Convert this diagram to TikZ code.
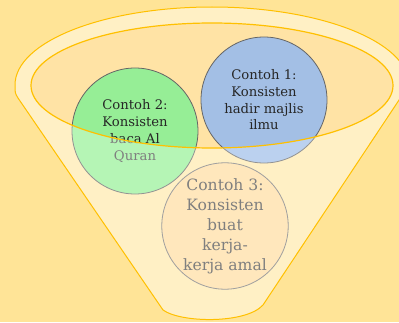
\documentclass[tikz,border=0pt]{standalone}
\usepackage{fontspec}
\setmainfont{DejaVu Serif}
\definecolor{bgc}{HTML}{FFE497}
\definecolor{bodyc}{HTML}{FFF0C5}
\definecolor{rimc}{HTML}{FFE3A5}
\definecolor{linec}{HTML}{FFC000}
\definecolor{greenout}{HTML}{B5F5B5}
\definecolor{greenin}{HTML}{96EE96}
\definecolor{blueout}{HTML}{BBD1EF}
\definecolor{bluein}{HTML}{A3BFE5}
\definecolor{beige}{HTML}{FFE7BC}
\definecolor{txtout}{HTML}{7F7F7F}
\definecolor{txtin}{HTML}{262626}
\tikzset{
  bubble/.style={circle, minimum size=126pt, inner sep=0pt, align=center,
    font=\fontsize{13.2}{16.7}\selectfont, line width=0.8pt},
  outer/.style={bubble, draw=gray!85, text=txtout},
  inner/.style={bubble, draw=black!60, text=txtin},
}
\begin{document}
\begin{tikzpicture}[x=1pt,y=1pt]
\useasboundingbox (0,0) rectangle (399,322);
\fill[bgc] (0,0) rectangle (399,322);
% funnel body
\draw[fill=bodyc, draw=linec, line width=1pt]
  (15,237) arc[start angle=180, end angle=0, x radius=197, y radius=78]
  -- (263,17) .. controls (246,-2) and (181,-1) .. (163,12)
  -- (18,224) .. controls (15,229) .. cycle;
% circles, outside the rim
\node[outer, fill=greenout] (c2o) at (135,191) {Contoh 2:\\Konsisten\\baca Al\\Quran};
\node[outer, fill=blueout] (c1o) at (264,222) {Contoh 1:\\Konsisten\\hadir majlis\\ilmu};
\node[bubble, draw=gray!75, fill=beige, text=txtout,
  font=\fontsize{15.6}{20}\selectfont] (c3) at (225,96)
  {Contoh 3:\\Konsisten\\buat\\kerja-\\kerja amal};
% inside the rim ellipse
\begin{scope}
  \clip (212,236.5) ellipse[x radius=181, y radius=62.5];
  \fill[rimc] (212,236.5) ellipse[x radius=181, y radius=62.5];
  \node[inner, fill=greenin] (c2i) at (135,191) {Contoh 2:\\Konsisten\\baca Al\\Quran};
  \node[inner, fill=bluein] (c1i) at (264,222) {Contoh 1:\\Konsisten\\hadir majlis\\ilmu};
\end{scope}
\draw[linec, line width=1.2pt] (212,236.5) ellipse[x radius=181, y radius=62.5];
\end{tikzpicture}
\end{document}
